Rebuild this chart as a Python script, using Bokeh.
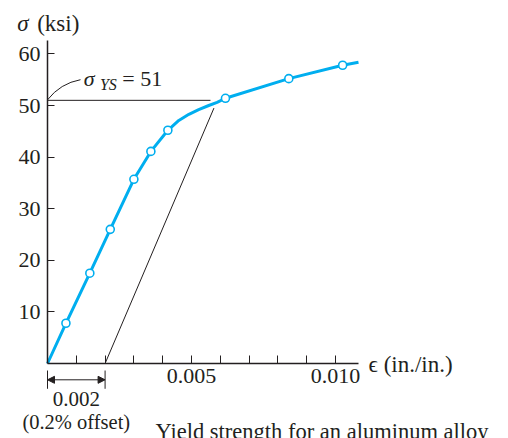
from bokeh.plotting import figure
from bokeh.models import Range1d, FixedTicker, Label, Arrow, NormalHead
from bokeh.embed import file_html
from bokeh.resources import INLINE

# ---- data ----
test_strain = [0.00064, 0.00147, 0.00218, 0.00300, 0.00359, 0.00418, 0.00618, 0.00838, 0.01025]
test_stress = [7.8, 17.5, 26.0, 35.7, 41.1, 45.2, 51.4, 55.2, 57.8]

curve_strain = [0.0, 0.00064, 0.00147, 0.00218, 0.00300, 0.00359, 0.00418, 0.00456, 0.00491,
                0.00525, 0.00560, 0.00589, 0.00618, 0.00838, 0.01025, 0.0108]
curve_stress = [0.0, 7.8, 17.5, 26.0, 35.7, 41.1, 45.2, 47.1, 48.3, 49.2, 50.0, 50.6, 51.4,
                55.2, 57.8, 58.4]

yield_strength = 51
offset = 0.002
offset_line_strain = [0.002, 0.00578]
offset_line_stress = [0.0, 49.5]
yield_line_end = 0.00566

x_ticks = [0.001, 0.002, 0.003, 0.004, 0.005, 0.006, 0.007, 0.008, 0.009, 0.010]
x_tick_labels = ["", "", "", "", "0.005", "", "", "", "", "0.010"]
y_ticks = [10, 20, 30, 40, 50, 60]
y_tick_labels = ["10", "20", "30", "40", "50", "60"]
x_axis_end = 0.0108
y_axis_end = 62.6

BLUE = "#00aeef"
INK = "#231f20"
SERIF = "Liberation Serif"

# frame fills the whole canvas; axes sit at the data origin
W, H = 508, 438
X0_PX, Y0_PX = 47, 363          # pixel position of the origin
SX, SY = 28796.0, 5.16          # pixels per data unit
x_range = Range1d(-X0_PX / SX, (W - X0_PX) / SX)
y_range = Range1d(-(H - Y0_PX) / SY, Y0_PX / SY)

p = figure(width=W, height=H, output_backend="svg", toolbar_location=None,
           x_range=x_range, y_range=y_range,
           min_border_left=0, min_border_right=0, min_border_top=0, min_border_bottom=0)
p.outline_line_color = None
p.xgrid.visible = False
p.ygrid.visible = False
p.background_fill_color = "white"
p.border_fill_color = "white"

for ax in (p.xaxis[0], p.yaxis[0]):
    ax.fixed_location = 0
    ax.axis_line_color = INK
    ax.axis_line_width = 1.5
    ax.major_tick_line_color = INK
    ax.major_tick_line_width = 1
    ax.major_tick_out = 0
    ax.minor_tick_line_color = None
    ax.major_label_text_font = SERIF
    ax.major_label_text_font_size = "22px"
    ax.major_label_text_color = INK

p.xaxis[0].bounds = (0, x_axis_end)
p.yaxis[0].bounds = (0, y_axis_end)
p.xaxis[0].ticker = FixedTicker(ticks=x_ticks)
p.xaxis[0].major_label_overrides = dict(zip(x_ticks, x_tick_labels))
p.xaxis[0].major_tick_in = 8
p.xaxis[0].major_label_standoff = 5
p.yaxis[0].ticker = FixedTicker(ticks=y_ticks)
p.yaxis[0].major_label_overrides = dict(zip(y_ticks, y_tick_labels))
p.yaxis[0].major_tick_in = 7
p.yaxis[0].major_label_standoff = 7

# construction lines
p.segment(x0=[0], y0=[yield_strength], x1=[yield_line_end], y1=[yield_strength],
          line_color=INK, line_width=1)
p.line(offset_line_strain, offset_line_stress, line_color=INK, line_width=1)

# leader curve for the annotation
p.quadratic(x0=[0], y0=[51.1], x1=[0.001146], y1=[55.0], cx=[0.00045], cy=[54.3],
            line_color=INK, line_width=1)

# stress-strain curve
p.line(curve_strain, curve_stress, line_color=BLUE, line_width=3, line_join="round")
p.scatter(test_strain, test_stress, size=8, fill_color="white", line_color=BLUE, line_width=1.6)

def lab(x, y, text, size="22px", style="normal", align="left"):
    p.add_layout(Label(x=x, y=y, text=text, text_font=SERIF, text_font_size=size,
                       text_font_style=style, text_color=INK, text_align=align,
                       text_baseline="middle"))

# axis titles
lab(-0.00105, 65.9, "σ", size="23px", style="italic")
lab(-0.000358, 65.9, "(ksi)", size="23px")
lab(0.01115, -0.19, "ϵ (in./in.)", size="23px")

# yield annotation
lab(0.00126, 55.2, "σ", style="italic")
lab(0.00182, 54.1, "YS", size="16px", style="italic")
lab(0.0026, 55.2, "= 51")

# offset dimension
p.segment(x0=[0, offset], y0=[-1.36, -1.36], x1=[0, offset], y1=[-4.9, -4.9],
          line_color=INK, line_width=1)
p.add_layout(Arrow(x_start=0, y_start=-3.16, x_end=offset, y_end=-3.16,
                   start=NormalHead(size=7, fill_color=INK, line_color=INK),
                   end=NormalHead(size=7, fill_color=INK, line_color=INK),
                   line_color=INK, line_width=1))
lab(0.001, -6.8, "0.002", size="21px", align="center")
lab(0.001, -11.43, "(0.2% offset)", size="20.5px", align="center")
lab(0.00375, -13.1, "Yield strength for an aluminum alloy", size="22.5px")

open("out.html", "w").write(file_html(p, INLINE))
